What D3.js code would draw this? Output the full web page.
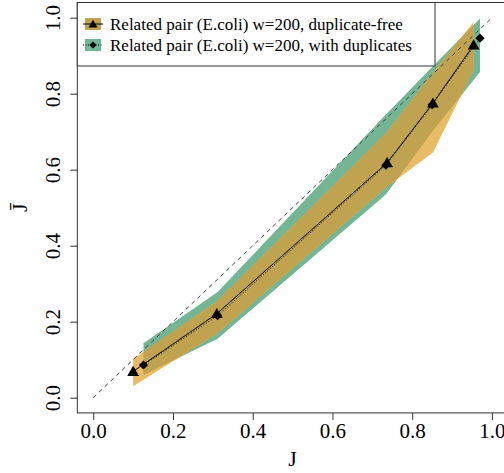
<!DOCTYPE html>
<html><head><meta charset="utf-8">
<script src="https://cdn.jsdelivr.net/npm/d3@7"></script>
<style>body{margin:0;background:#fff}svg{display:block}text{font-family:"Liberation Serif","Times New Roman",serif}</style>
</head><body>
<script>
// ---- data ----
const seriesNames = ["Related pair (E.coli) w=200, duplicate-free", "Related pair (E.coli) w=200, with duplicates"];
// duplicate-free (triangles)
const freeJ     = [0.100, 0.310, 0.737, 0.852, 0.954];
const freeJbar  = [0.069, 0.221, 0.618, 0.775, 0.928];
const freeUpper = [0.102, 0.254, 0.700, 0.855, 0.989];
const freeLower = [0.030, 0.168, 0.555, 0.645, 0.862];
// with duplicates (diamonds)
const dupJ      = [0.126, 0.312, 0.734, 0.850, 0.970];
const dupJbar   = [0.086, 0.216, 0.612, 0.771, 0.946];
const dupUpper  = [0.143, 0.278, 0.745, 0.870, 0.998];
const dupLower  = [0.060, 0.155, 0.535, 0.700, 0.857];
const xTicks = [0, 0.2, 0.4, 0.6, 0.8, 1.0];
const yTicks = [0, 0.2, 0.4, 0.6, 0.8, 1.0];
const diagonal = [0, 1];

const W = 504, H = 473;
const colOrange = "#E8BB66", colGreen = "#74B596", colOverlap = "#BFA350";

const svg = d3.select("body").append("svg").attr("width", W).attr("height", H);
const x = d3.scaleLinear().domain([-0.04, 1.04]).range([77.3, 507.9]);
const y = d3.scaleLinear().domain([-0.04, 1.04]).range([412.9, 2.5]);

const defs = svg.append("defs");
defs.append("clipPath").attr("id", "plotclip").append("rect")
  .attr("x", x(-0.04)).attr("y", y(1.04)).attr("width", x(1.04) - x(-0.04)).attr("height", y(-0.04) - y(1.04));

const free = freeJ.map((d, i) => ({x: d, y: freeJbar[i], lo: freeLower[i], hi: freeUpper[i]}));
const dup = dupJ.map((d, i) => ({x: d, y: dupJbar[i], lo: dupLower[i], hi: dupUpper[i]}));

const area = d3.area().x(d => x(d.x)).y0(d => y(d.lo)).y1(d => y(d.hi));
defs.append("clipPath").attr("id", "greenclip").append("path").attr("d", area(dup));

const g = svg.append("g").attr("clip-path", "url(#plotclip)");
g.append("path").attr("d", area(dup)).attr("fill", colGreen);
g.append("path").attr("d", area(free)).attr("fill", colOrange);
g.append("path").attr("d", area(free)).attr("fill", colOverlap).attr("clip-path", "url(#greenclip)");

// diagonal
g.append("line").attr("x1", x(diagonal[0])).attr("y1", y(diagonal[0])).attr("x2", x(diagonal[1])).attr("y2", y(diagonal[1]))
  .attr("stroke", "#444").attr("stroke-width", 1).attr("stroke-dasharray", "4,4");

const line = d3.line().x(d => x(d.x)).y(d => y(d.y));
g.append("path").attr("d", line(free)).attr("fill", "none").attr("stroke", "#000").attr("stroke-width", 1);
g.append("path").attr("d", line(dup)).attr("fill", "none").attr("stroke", "#000").attr("stroke-width", 1).attr("stroke-dasharray", "1,2");

const tri = d3.symbol().type(d3.symbolTriangle).size(60);
const dia = (s) => `M0,${-s}L${s},0L0,${s}L${-s},0Z`;
g.selectAll(".dia").data(dup).join("path").attr("transform", d => `translate(${x(d.x)},${y(d.y)})`).attr("d", dia(4.6)).attr("fill", "#000");
g.selectAll(".tri").data(free).join("path").attr("transform", d => `translate(${x(d.x)},${y(d.y) + 1})`).attr("d", tri).attr("fill", "#000");

// box
svg.append("rect").attr("x", x(-0.04)).attr("y", y(1.04)).attr("width", x(1.04) - x(-0.04)).attr("height", y(-0.04) - y(1.04))
  .attr("fill", "none").attr("stroke", "#333").attr("stroke-width", 1);

// axes
const xa = svg.append("g").attr("transform", `translate(0,${y(-0.04)})`)
  .call(d3.axisBottom(x).tickValues(xTicks).tickFormat(d3.format(".1f")).tickSize(7).tickPadding(3));
xa.select(".domain").remove();
xa.selectAll("line").attr("stroke", "#333");
xa.selectAll("text").attr("font-size", 21).attr("fill", "#000").attr("font-family", "Liberation Serif");

const ya = svg.append("g").attr("transform", `translate(${x(-0.04)},0)`)
  .call(d3.axisLeft(y).tickValues(yTicks).tickFormat(d3.format(".1f")).tickSize(7));
ya.select(".domain").remove();
ya.selectAll("line").attr("stroke", "#333");
ya.selectAll("text").attr("font-size", 21).attr("fill", "#000").attr("font-family", "Liberation Serif")
  .attr("x", 0).attr("dy", 0).attr("text-anchor", "middle").attr("transform", "translate(-17,0) rotate(-90)");

// titles
svg.append("text").attr("x", (x(-0.04) + x(1.04)) / 2).attr("y", 466).attr("text-anchor", "middle").attr("font-size", 22).text("J");
svg.append("text").attr("transform", `translate(27,${(y(-0.04) + y(1.04)) / 2}) rotate(-90)`).attr("text-anchor", "middle")
  .attr("font-size", 22).text("J\u0304");

// legend
const lg = svg.append("g");
lg.append("rect").attr("x", x(-0.04)).attr("y", y(1.04)).attr("width", 435 - x(-0.04)).attr("height", 66 - y(1.04))
  .attr("fill", "#fff").attr("stroke", "#333").attr("stroke-width", 1);
const legendFill = [colOverlap, colGreen];
seriesNames.forEach((name, i) => {
  const cy = 24 + i * 21;
  lg.append("rect").attr("x", 85).attr("y", cy - 6).attr("width", 16).attr("height", 12).attr("fill", legendFill[i]);
  lg.append("line").attr("x1", 83).attr("x2", 103).attr("y1", cy).attr("y2", cy).attr("stroke", "#000").attr("stroke-width", 1)
    .attr("stroke-dasharray", i === 0 ? null : "1,1.5");
  if (i === 0) lg.append("path").attr("transform", `translate(93,${cy + 1})`).attr("d", d3.symbol().type(d3.symbolTriangle).size(35)).attr("fill", "#000");
  else lg.append("path").attr("transform", `translate(93,${cy})`).attr("d", dia(3.6)).attr("fill", "#000");
  lg.append("text").attr("x", 110).attr("y", cy + 6).attr("font-size", 17).attr("fill", "#000").text(name);
});
</script>
</body></html>
